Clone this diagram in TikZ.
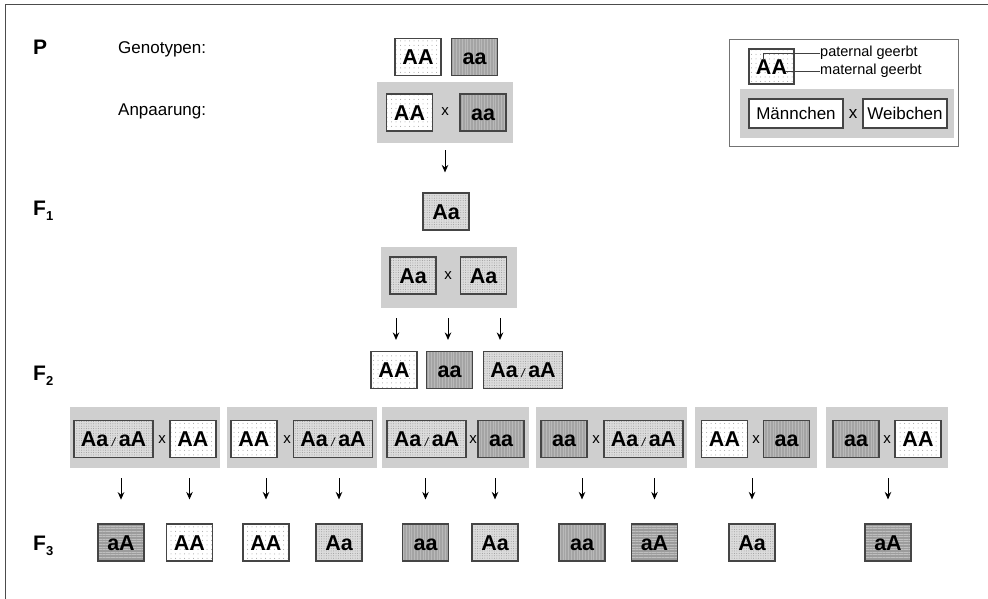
\documentclass[tikz,border=0pt]{standalone}
\usepackage{fontspec}
\setmainfont{Liberation Sans}
\usetikzlibrary{patterns.meta, arrows.meta}

\definecolor{boxline}{HTML}{454545}
\definecolor{panelgray}{HTML}{CFCFCF}
\definecolor{lightfill}{HTML}{DCDCDC}
\definecolor{darkfill}{HTML}{A4A4A4}
\definecolor{wavefill}{HTML}{9C9C9C}

\newcommand{\sep}{\,{\fontsize{12}{12}\selectfont\mdseries\itshape /}\,}

\tikzset{
  geno/.style={draw=boxline, line width=1.1pt, minimum height=37pt,
    minimum width=46pt, inner sep=0pt, text height=15.5pt, text depth=0pt,
    font=\fontsize{21.5}{24}\selectfont\bfseries},
  wide/.style={minimum width=79pt},
  gAA/.style={geno, preaction={fill=white},
    pattern={Dots[distance=4.5pt, radius=0.5pt]}, pattern color=gray!75},
  gAa/.style={geno, preaction={fill=lightfill},
    pattern={Dots[distance=2.4pt, radius=0.5pt]}, pattern color=gray!80},
  gaa/.style={geno, preaction={fill=darkfill},
    pattern={Lines[angle=90, distance=2.8pt, line width=0.6pt]}, pattern color=gray!55},
  gaA/.style={geno, preaction={fill=wavefill},
    pattern={Lines[angle=0, distance=2.6pt, line width=0.6pt]}, pattern color=gray!50},
  panel/.style={fill=panelgray, draw=none, inner sep=0pt},
  crossx/.style={inner sep=0pt, font=\fontsize{15}{17}\selectfont},
  gen/.style={anchor=west, inner sep=0pt, font=\fontsize{21}{23}\selectfont\bfseries},
  caption/.style={anchor=west, inner sep=0pt, font=\fontsize{17}{19}\selectfont},
  arr/.style={-{Stealth[length=7.5pt, width=6.5pt]}, line width=1pt},
  sexbox/.style={draw=boxline, line width=1.1pt, fill=white, minimum height=29pt,
    inner sep=0pt, font=\fontsize{17}{19}\selectfont},
  note/.style={anchor=west, inner sep=0pt, font=\fontsize{14.5}{16}\selectfont},
}

\newcommand{\sub}[1]{{\fontsize{13}{13}\selectfont\raisebox{-5pt}{#1}}}

\begin{document}
\begin{tikzpicture}[x=1pt, y=-1pt]
  \fill[white] (0,0) rectangle (988,599);
  \useasboundingbox (0,0) rectangle (988,599);
  % frame edges
  \draw[line width=1pt, black!70] (5,599) -- (5,5) -- (988,5);

  % generation labels
  \node[gen] (lP) at (33,47) {P};
  \node[gen] (lF1) at (33,211) {F\sub{1}};
  \node[gen] (lF2) at (33,376) {F\sub{2}};
  \node[gen] (lF3) at (33,546) {F\sub{3}};
  \node[caption] (tgeno) at (118,49) {Genotypen:};
  \node[caption] (tpair) at (118,111) {Anpaarung:};

  % P generation
  \node[gAA] (pAA) at (418,57) {AA};
  \node[gaa] (paa) at (474.5,57) {aa};
  \node[panel, minimum width=136pt, minimum height=61pt] (cP) at (445,112.5) {};
  \node[gAA] (cPm) at (409.5,112.5) {AA};
  \node[crossx] (cPx) at (445,112) {x};
  \node[gaa] (cPf) at (483,112.5) {aa};

  % F1 generation
  \node[gAa] (f1) at (446,211.5) {Aa};
  \draw[arr, shorten <=7pt, shorten >=20pt] (cP.south) -- (cP.south |- f1.north);
  \node[panel, minimum width=136pt, minimum height=61pt] (cF1) at (449,277.5) {};
  \node[gAa] (cF1m) at (413,275.5) {Aa};
  \node[crossx] (cF1x) at (448,276) {x};
  \node[gAa] (cF1f) at (483.5,275.5) {Aa};

  % F2 generation
  \node[gAA] (f2a) at (394,370) {AA};
  \node[gaa] (f2b) at (449.5,370) {aa};
  \node[gAa, wide] (f2c) at (523,370) {Aa\sep aA};
  \draw[arr, shorten <=10pt, shorten >=11pt] ([xshift=2pt]cF1.south -| f2a) -- ([xshift=2pt]f2a.north);
  \draw[arr, shorten <=10pt, shorten >=11pt] ([xshift=-1.5pt]cF1.south -| f2b) -- ([xshift=-1.5pt]f2b.north);
  \draw[arr, shorten <=10pt, shorten >=11pt] ([xshift=-23pt]cF1.south -| f2c) -- ([xshift=-23pt]f2c.north);

  % F2 crosses
  \node[panel, minimum width=150pt, minimum height=61pt] (k1) at (145,437.5) {};
  \node[panel, minimum width=150pt, minimum height=61pt] (k2) at (302,437.5) {};
  \node[panel, minimum width=147pt, minimum height=61pt] (k3) at (455.5,437.5) {};
  \node[panel, minimum width=151pt, minimum height=61pt] (k4) at (611.5,437.5) {};
  \node[panel, minimum width=122pt, minimum height=61pt] (k5) at (756,437.5) {};
  \node[panel, minimum width=122pt, minimum height=61pt] (k6) at (887,437.5) {};

  \node[gAa, wide] (k1m) at (113.5,439) {Aa\sep aA};
  \node[crossx] (k1x) at (162,440) {x};
  \node[gAA] (k1f) at (193,439) {AA};

  \node[gAA] (k2m) at (254,439) {AA};
  \node[crossx] (k2x) at (287,440) {x};
  \node[gAa, wide] (k2f) at (333,439) {Aa\sep aA};

  \node[gAa, wide] (k3m) at (426.5,439) {Aa\sep aA};
  \node[crossx] (k3x) at (473,440) {x};
  \node[gaa] (k3f) at (501,439) {aa};

  \node[gaa] (k4m) at (564,439) {aa};
  \node[crossx] (k4x) at (596,440) {x};
  \node[gAa, wide] (k4f) at (643.5,439) {Aa\sep aA};

  \node[gAA] (k5m) at (724.5,439) {AA};
  \node[crossx] (k5x) at (756,440) {x};
  \node[gaa] (k5f) at (786.5,439) {aa};

  \node[gaa] (k6m) at (856,439) {aa};
  \node[crossx] (k6x) at (887,440) {x};
  \node[gAA] (k6f) at (918,439) {AA};

  % F3 generation
  \node[gaA] (t1) at (121,542.5) {aA};
  \node[gAA] (t2) at (189.5,542.5) {AA};
  \node[gAA] (t3) at (266,542.5) {AA};
  \node[gAa] (t4) at (339,542.5) {Aa};
  \node[gaa] (t5) at (425.5,542.5) {aa};
  \node[gAa] (t6) at (495,542.5) {Aa};
  \node[gaa] (t7) at (582,542.5) {aa};
  \node[gaA] (t8) at (654.5,542.5) {aA};
  \node[gAa] (t9) at (752,542.5) {Aa};
  \node[gaA] (t10) at (888,542.5) {aA};

  \foreach \k/\t in {k1/t1, k1/t2, k2/t3, k2/t4, k3/t5, k3/t6, k4/t7, k4/t8, k5/t9, k6/t10}
    \draw[arr, shorten <=10pt, shorten >=24pt] (\k.south -| \t) -- (\t.north);

  % legend
  \node[draw=black!55, line width=0.9pt, minimum width=229pt, minimum height=107pt,
    inner sep=0pt] (legend) at (843.5,92.5) {};
  \node[gAA, minimum width=45pt, minimum height=35pt] (lgAA) at (771.5,66.5) {AA};
  \node[note] (pat) at (820,53) {paternal geerbt};
  \node[note] (mat) at (820,71) {maternal geerbt};
  \coordinate (patS) at (763,60);
  \coordinate (matS) at (785,71);
  \draw[line width=0.8pt, black!75] (patS) |- (pat.west);
  \draw[line width=0.8pt, black!75] (matS) -- (mat.west);
  \node[panel, minimum width=214pt, minimum height=49pt] (lgP) at (847,113.5) {};
  \node[sexbox, minimum width=94pt] (male) at (796,113.5) {Männchen};
  \node[crossx, font=\fontsize{17}{19}\selectfont] (lgx) at (853,114) {x};
  \node[sexbox, minimum width=84pt] (female) at (905,113.5) {Weibchen};
\end{tikzpicture}
\end{document}
